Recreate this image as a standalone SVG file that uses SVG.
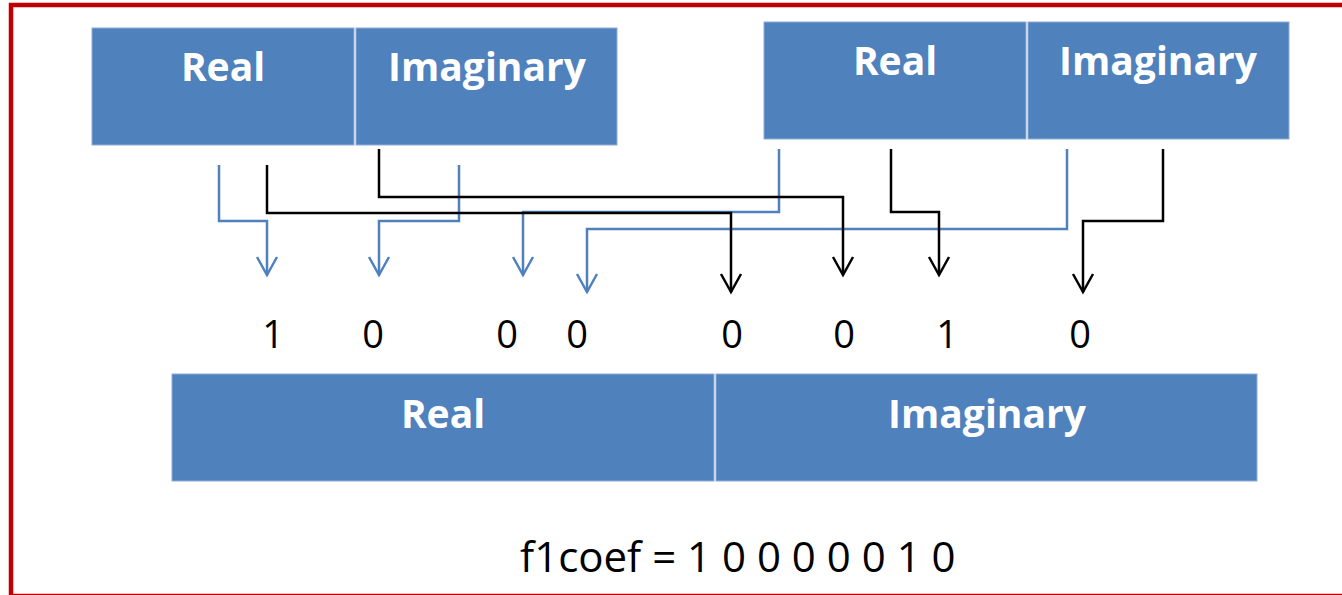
<svg xmlns="http://www.w3.org/2000/svg" width="1342" height="595" viewBox="0 0 1342 595">
<defs>
<style>
.box{fill:#4F81BD;stroke:#8EACD6;stroke-width:1}
.lbl{font-family:"Open Sans","Noto Sans",sans-serif;font-weight:bold;font-size:39px;fill:#ffffff;text-anchor:middle}
.bit{font-family:"Open Sans","Noto Sans",sans-serif;font-size:38px;fill:#000;text-anchor:middle}
.eq{font-family:"Open Sans","Noto Sans",sans-serif;font-size:42px;fill:#000}
.cb{fill:none;stroke:#4F81BD;stroke-width:2.5}
.ck{fill:none;stroke:#000;stroke-width:2.5}
</style>
<marker id="ab" markerUnits="userSpaceOnUse" markerWidth="24" markerHeight="24" viewBox="-20 -12 22 24" refX="0" refY="0" orient="auto">
<path d="M-18,-10 L0,0 L-18,10" fill="none" stroke="#4F81BD" stroke-width="2.5"/>
</marker>
<marker id="ak" markerUnits="userSpaceOnUse" markerWidth="24" markerHeight="24" viewBox="-20 -12 22 24" refX="0" refY="0" orient="auto">
<path d="M-18,-10 L0,0 L-18,10" fill="none" stroke="#000" stroke-width="2.5"/>
</marker>
</defs>
<rect x="11" y="5" width="1345" height="591" fill="#ffffff" stroke="#C00000" stroke-width="4.5"/>
<g id="a-real">
<rect class="box" x="92" y="28" width="262" height="117"/>
<text class="lbl" x="223" y="81">Real</text>
</g>
<g id="a-imag">
<rect class="box" x="356" y="28" width="261" height="117"/>
<text class="lbl" x="487" y="81">Imaginary</text>
</g>
<g id="b-real">
<rect class="box" x="764" y="22" width="262" height="117"/>
<text class="lbl" x="895" y="75">Real</text>
</g>
<g id="b-imag">
<rect class="box" x="1028" y="22" width="261" height="117"/>
<text class="lbl" x="1158" y="75">Imaginary</text>
</g>
<g id="c-real">
<rect class="box" x="172" y="374" width="542" height="107"/>
<text class="lbl" x="443" y="428">Real</text>
</g>
<g id="c-imag">
<rect class="box" x="716" y="374" width="541" height="107"/>
<text class="lbl" x="987" y="428">Imaginary</text>
</g>
<g id="connectors">
<path class="cb" d="M219,165 V221 H267 V275" marker-end="url(#ab)"/>
<path class="cb" d="M459,165 V221 H379 V275" marker-end="url(#ab)"/>
<path class="cb" d="M779,149 V212 H523 V275" marker-end="url(#ab)"/>
<path class="cb" d="M1067,149 V229 H587 V292" marker-end="url(#ab)"/>
<path class="ck" d="M267,165 V213 H731 V292" marker-end="url(#ak)"/>
<path class="ck" d="M379,149 V197 H843 V275" marker-end="url(#ak)"/>
<path class="ck" d="M891,149 V212 H939 V275" marker-end="url(#ak)"/>
<path class="ck" d="M1163,149 V221 H1083 V292" marker-end="url(#ak)"/>
</g>
<g id="bits">
<text class="bit" x="273" y="348">1</text>
<text class="bit" x="373" y="348">0</text>
<text class="bit" x="507" y="348">0</text>
<text class="bit" x="577" y="348">0</text>
<text class="bit" x="732" y="348">0</text>
<text class="bit" x="844" y="348">0</text>
<text class="bit" x="947" y="348">1</text>
<text class="bit" x="1080" y="348">0</text>
</g>
<g id="formula">
<text class="eq" x="520" y="572">f1coef = 1 0 0 0 0 0 1 0</text>
</g>
</svg>
